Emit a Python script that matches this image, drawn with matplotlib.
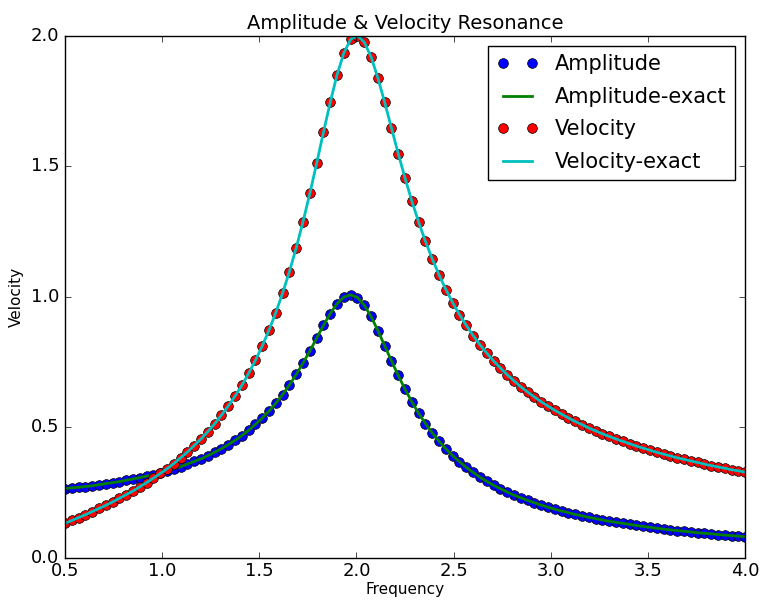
import matplotlib
matplotlib.use("Agg")
import matplotlib.pyplot as plt

plt.style.use("classic")

# driving frequency samples
freq = [0.5, 0.535, 0.57, 0.605, 0.64, 0.675, 0.71, 0.745, 0.78, 0.815,
        0.85, 0.885, 0.92, 0.955, 0.99, 1.025, 1.06, 1.095, 1.13, 1.165,
        1.2, 1.235, 1.27, 1.305, 1.34, 1.375, 1.41, 1.445, 1.48, 1.515,
        1.55, 1.585, 1.62, 1.655, 1.69, 1.725, 1.76, 1.795, 1.83, 1.865,
        1.9, 1.935, 1.97, 2.005, 2.04, 2.075, 2.11, 2.145, 2.18, 2.215,
        2.25, 2.285, 2.32, 2.355, 2.39, 2.425, 2.46, 2.495, 2.53, 2.565,
        2.6, 2.635, 2.67, 2.705, 2.74, 2.775, 2.81, 2.845, 2.88, 2.915,
        2.95, 2.985, 3.02, 3.055, 3.09, 3.125, 3.16, 3.195, 3.23, 3.265,
        3.3, 3.335, 3.37, 3.405, 3.44, 3.475, 3.51, 3.545, 3.58, 3.615,
        3.65, 3.685, 3.72, 3.755, 3.79, 3.825, 3.86, 3.895, 3.93, 3.965, 4.0]

amplitude = [0.266, 0.269, 0.271, 0.274, 0.277, 0.281, 0.285, 0.289, 0.293, 0.298,
             0.303, 0.308, 0.314, 0.320, 0.327, 0.334, 0.342, 0.350, 0.360, 0.370,
             0.380, 0.392, 0.405, 0.419, 0.434, 0.451, 0.469, 0.489, 0.512, 0.536,
             0.563, 0.593, 0.626, 0.663, 0.703, 0.747, 0.793, 0.842, 0.891, 0.936,
             0.974, 0.999, 1.008, 0.997, 0.968, 0.925, 0.871, 0.813, 0.755, 0.699,
             0.646, 0.598, 0.554, 0.515, 0.479, 0.447, 0.418, 0.392, 0.369, 0.347,
             0.328, 0.310, 0.294, 0.279, 0.266, 0.253, 0.241, 0.231, 0.221, 0.212,
             0.203, 0.195, 0.187, 0.180, 0.174, 0.167, 0.162, 0.156, 0.151, 0.146,
             0.141, 0.137, 0.133, 0.129, 0.125, 0.121, 0.118, 0.114, 0.111, 0.108,
             0.105, 0.103, 0.100, 0.097, 0.095, 0.093, 0.090, 0.088, 0.086, 0.084, 0.082]

velocity = [0.133, 0.144, 0.155, 0.166, 0.178, 0.190, 0.202, 0.215, 0.229, 0.243,
            0.257, 0.273, 0.289, 0.306, 0.324, 0.342, 0.362, 0.384, 0.406, 0.431,
            0.456, 0.484, 0.514, 0.547, 0.582, 0.620, 0.661, 0.707, 0.757, 0.812,
            0.873, 0.940, 1.015, 1.097, 1.188, 1.288, 1.396, 1.511, 1.630, 1.745,
            1.850, 1.934, 1.986, 2.000, 1.975, 1.919, 1.838, 1.745, 1.646, 1.548,
            1.454, 1.366, 1.286, 1.212, 1.145, 1.084, 1.028, 0.978, 0.932, 0.891,
            0.852, 0.817, 0.785, 0.755, 0.728, 0.702, 0.679, 0.656, 0.636, 0.617,
            0.599, 0.582, 0.566, 0.551, 0.537, 0.523, 0.511, 0.498, 0.487, 0.476,
            0.466, 0.456, 0.447, 0.438, 0.429, 0.421, 0.413, 0.405, 0.398, 0.391,
            0.384, 0.378, 0.372, 0.366, 0.360, 0.354, 0.349, 0.344, 0.338, 0.334, 0.329]

fig = plt.figure(figsize=(7.6, 6.04), dpi=100, facecolor="white")
ax = fig.add_axes([0.0855, 0.076, 0.895, 0.865])

ax.plot(freq, amplitude, "bo", markersize=7, label="Amplitude")
ax.plot(freq, amplitude, "g-", linewidth=2, label="Amplitude-exact")
ax.plot(freq, velocity, "ro", markersize=7, label="Velocity")
ax.plot(freq, velocity, "c-", linewidth=2, label="Velocity-exact")

ax.set_xlim(0.5, 4.0)
ax.set_ylim(0.0, 2.0)
ax.set_xticks([0.5, 1.0, 1.5, 2.0, 2.5, 3.0, 3.5, 4.0])
ax.set_yticks([0.0, 0.5, 1.0, 1.5, 2.0])
ax.tick_params(labelsize=13)
ax.tick_params(axis="x", pad=3)
ax.set_xlabel("Frequency", fontsize=11, labelpad=1)
ax.set_ylabel("Velocity", fontsize=11)
ax.set_title("Amplitude & Velocity Resonance", fontsize=14)
ax.legend(loc="upper right", numpoints=2, fontsize=15, labelspacing=0.6)

fig.savefig("out.png", dpi=100, facecolor="white")
